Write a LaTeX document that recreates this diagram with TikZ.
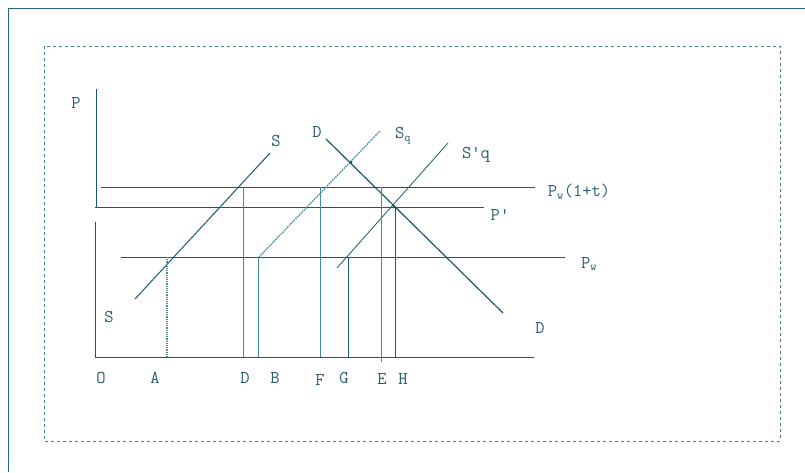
\documentclass[tikz,border=0pt]{standalone}
\usetikzlibrary{positioning}
\definecolor{frameblue}{RGB}{38,98,140}
\definecolor{boxteal}{RGB}{60,130,145}
\definecolor{lineteal}{RGB}{30,88,104}
\definecolor{guideteal}{RGB}{70,140,155}
\definecolor{labelteal}{RGB}{40,95,108}

\begin{document}
\begin{tikzpicture}[
    x=1pt, y=-1pt,
    frame/.style={draw=frameblue, line width=1pt},
    dashbox/.style={draw=boxteal, dashed, line width=0.8pt},
    curve/.style={draw=lineteal, line width=1pt},
    dotcurve/.style={draw=guideteal, densely dotted, line width=1.4pt},
    guide/.style={draw=guideteal, line width=0.9pt},
    darkguide/.style={draw=lineteal, line width=1pt},
    lbl/.style={text=labelteal, font=\ttfamily\fontsize{18}{20}\selectfont, inner sep=0pt}
]
\useasboundingbox (0,0) rectangle (805,472);

% frames
\draw[frame] (805,8) -- (8,8) -- (8,472);
\draw[dashbox] (44,46) rectangle (780,441);

% axes
\coordinate (ytop) at (96,89);
\coordinate (ygap) at (96,207);
\coordinate (ylow) at (95,222);
\coordinate (O) at (95,357);
\coordinate (xend) at (534,357);
\draw[curve] (ytop) -- (ygap);
\draw[curve] (ylow) -- (O) -- (xend);

% price lines
\coordinate (tax0) at (101,187);  \coordinate (tax1) at (535,187);
\coordinate (pp0) at (95,207);    \coordinate (pp1) at (484,207);
\coordinate (pw0) at (121,257);   \coordinate (pw1) at (565,257);
\draw[curve] (tax0) -- (tax1);
\draw[curve] (pp0) -- (pp1);
\draw[curve] (pw0) -- (pw1);

% supply and demand
\coordinate (S0) at (135,299);  \coordinate (S1) at (270,153);
\coordinate (Sq0) at (259,257); \coordinate (Sq1) at (380,131);
\coordinate (Sp0) at (337,268); \coordinate (Sp1) at (448,143);
\coordinate (D0) at (326,139);  \coordinate (D1) at (503,313);
\draw[curve] (S0) -- (S1);
\draw[dotcurve] (Sq0) -- (Sq1);
\draw[curve, line width=0.8pt] (Sp0) -- (Sp1);
\draw[curve, line width=1.2pt] (D0) -- (D1);

% intersections
\coordinate (X1) at (351,162);
\coordinate (X2) at (394,207);
\fill[lineteal] (X1) circle (1.6pt);
\fill[lineteal] (X2) circle (1.6pt);

% quantities
\draw[dotcurve, line width=1.2pt] (167,257) -- (167,357);
\draw[guide] (243,187) -- (243,357);
\draw[guide] (258,257) -- (258,357);
\draw[guide] (320,187) -- (320,357);
\draw[darkguide] (348,257) -- (348,357);
\draw[guide] (381,187) -- (381,362);
\draw[darkguide] (395,207) -- (395,357);

% labels
\node[lbl] (lP) at (76,103) {P};
\node[lbl] (lS1) at (276,141) {S};
\node[lbl] (lD1) at (317,132) {D};
\node[lbl] (lSq) at (403,136) {S$_{\mathtt{q}}$};
\node[lbl] (lSpq) at (476,155) {S'q};
\node[lbl] (lTax) at (579,192) {P$_{\mathtt{w}}$(1+t)};
\node[lbl] (lPp) at (500,215) {P'};
\node[lbl] (lPw) at (589,264) {P$_{\mathtt{w}}$};
\node[lbl] (lS0) at (109,317) {S};
\node[lbl] (lD0) at (540,328) {D};

\node[lbl] (qO) at (101,378) {O};
\node[lbl] (qA) at (155,378) {A};
\node[lbl] (qD) at (245,378) {D};
\node[lbl] (qB) at (275,378) {B};
\node[lbl] (qF) at (320,380) {F};
\node[lbl] (qG) at (344,378) {G};
\node[lbl] (qE) at (382,379) {E};
\node[lbl] (qH) at (403,379) {H};
\end{tikzpicture}
\end{document}
